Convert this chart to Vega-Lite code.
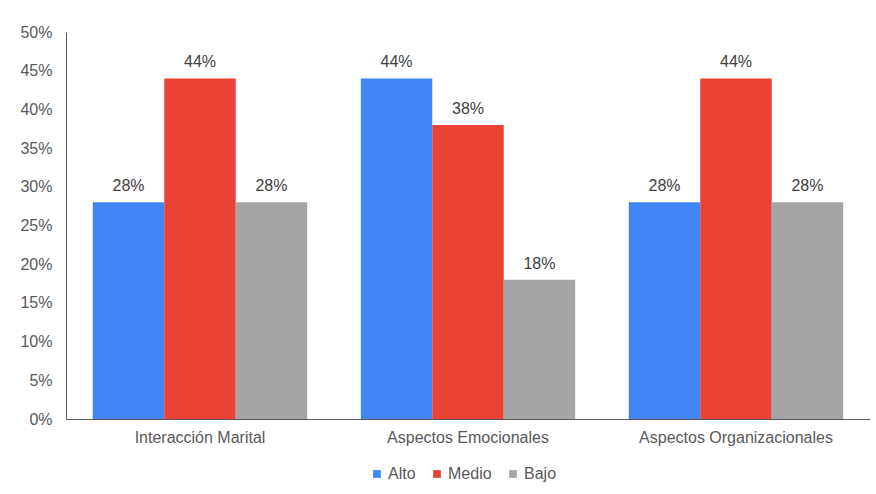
{
  "$schema": "https://vega.github.io/schema/vega-lite/v6.json",
  "width": 804,
  "height": 387,
  "autosize": {"type": "none"},
  "padding": {"left": 66, "top": 32, "right": 6, "bottom": 75},
  "background": "white",
  "config": {
    "view": {"stroke": null},
    "font": "Liberation Sans",
    "axis": {"labelFont": "Liberation Sans", "labelFontSize": 16, "labelColor": "#595959", "domainColor": "#595959", "grid": false, "ticks": false, "tickSize": 0, "title": null, "labelLimit": 0},
    "legend": {"labelFont": "Liberation Sans", "labelFontSize": 16, "labelColor": "#595959"}
  },
  "data": {
    "values": [
      {"grupo": "Interacción Marital", "nivel": "Alto", "valor": 0.28},
      {"grupo": "Interacción Marital", "nivel": "Medio", "valor": 0.44},
      {"grupo": "Interacción Marital", "nivel": "Bajo", "valor": 0.28},
      {"grupo": "Aspectos Emocionales", "nivel": "Alto", "valor": 0.44},
      {"grupo": "Aspectos Emocionales", "nivel": "Medio", "valor": 0.38},
      {"grupo": "Aspectos Emocionales", "nivel": "Bajo", "valor": 0.18},
      {"grupo": "Aspectos Organizacionales", "nivel": "Alto", "valor": 0.28},
      {"grupo": "Aspectos Organizacionales", "nivel": "Medio", "valor": 0.44},
      {"grupo": "Aspectos Organizacionales", "nivel": "Bajo", "valor": 0.28}
    ]
  },
  "encoding": {
    "x": {
      "field": "grupo", "type": "nominal",
      "sort": ["Interacción Marital", "Aspectos Emocionales", "Aspectos Organizacionales"],
      "scale": {"paddingInner": 0.2, "paddingOuter": 0.1},
      "axis": {"labelAngle": 0, "labelPadding": 10, "labelLimit": 0}
    },
    "xOffset": {
      "field": "nivel", "type": "nominal",
      "sort": ["Alto", "Medio", "Bajo"],
      "scale": {"paddingInner": 0, "paddingOuter": 0}
    },
    "y": {
      "field": "valor", "type": "quantitative",
      "scale": {"domain": [0, 0.5], "nice": false},
      "axis": {"format": ".0%", "values": [0, 0.05, 0.1, 0.15, 0.2, 0.25, 0.3, 0.35, 0.4, 0.45, 0.5], "labelPadding": 14}
    }
  },
  "layer": [
    {
      "mark": {"type": "bar"},
      "encoding": {
        "color": {
          "field": "nivel", "type": "nominal",
          "sort": ["Alto", "Medio", "Bajo"],
          "scale": {"domain": ["Alto", "Medio", "Bajo"], "range": ["#4285F4", "#EA4335", "#A5A5A5"]},
          "legend": {"orient": "none", "legendX": 303, "legendY": 434, "padding": 0, "direction": "horizontal", "title": null, "symbolType": "square", "symbolSize": 60, "symbolStrokeWidth": 0, "columnPadding": 13, "labelOffset": 3}
        }
      }
    },
    {
      "mark": {"type": "text", "baseline": "bottom", "dy": -8, "fontSize": 16, "color": "#404040", "font": "Liberation Sans"},
      "encoding": {
        "text": {"field": "valor", "type": "quantitative", "format": ".0%"}
      }
    }
  ]
}
